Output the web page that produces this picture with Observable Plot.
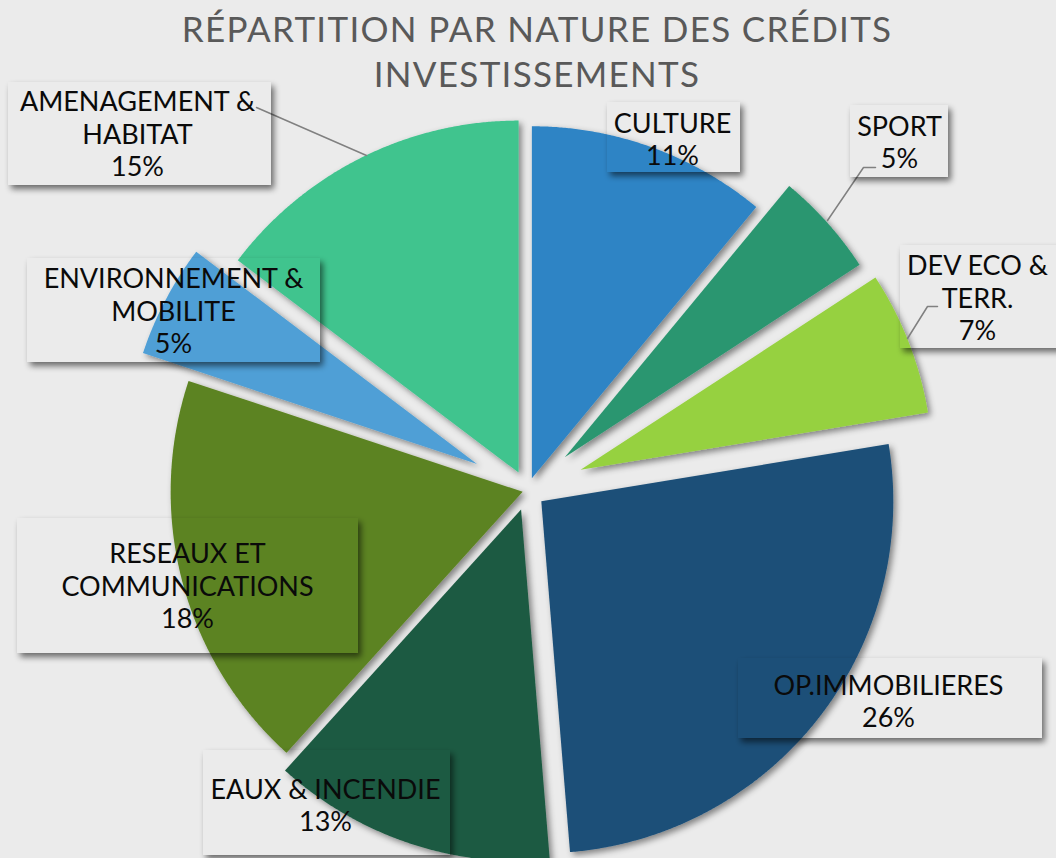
<!DOCTYPE html>
<html><head><meta charset="utf-8">
<script src="https://cdn.jsdelivr.net/npm/d3@7"></script>
<script src="https://cdn.jsdelivr.net/npm/@observablehq/plot@0.6"></script>
<style>
html,body{margin:0;padding:0;background:#ebebeb;}
#wrap{position:relative;width:1056px;height:858px;overflow:hidden;}
#title{position:absolute;left:0;top:6px;width:1074px;text-align:center;font-family:Lato,"Open Sans",sans-serif;font-size:35px;letter-spacing:1.3px;line-height:45px;color:#595959;}
</style></head>
<body>
<div id="wrap"><div id="chart"></div><div id="title">RÉPARTITION PAR NATURE DES CRÉDITS<br>INVESTISSEMENTS</div></div>
<script>
// ---- data ----
const categories = ["CULTURE","SPORT","DEV ECO & TERR.","OP.IMMOBILIERES","EAUX & INCENDIE","RESEAUX ET COMMUNICATIONS","ENVIRONNEMENT & MOBILITE","AMENAGEMENT & HABITAT"];
const shares = [11.0, 4.8, 6.6, 26.3, 13.0, 18.4, 5.2, 14.7];
const labelLines = [["CULTURE"],["SPORT"],["DEV ECO &","TERR."],["OP.IMMOBILIERES"],["EAUX & INCENDIE"],["RESEAUX ET","COMMUNICATIONS"],["ENVIRONNEMENT &","MOBILITE"],["AMENAGEMENT &","HABITAT"]];
const colors = ["#2e84c5","#2c9670","#96d13f","#1c4f78","#1e5a42","#5c8321","#4f9fd6","#3fc48e"];

// ---- layout (pixels) ----
const pie = {cx: 527, cy: 490, r: 352, explode: [13, 50, 57, 17.5, 20, 5, 57, 20]};
const labelBoxes = [[607,102,740,172],[850,105,948,177],[900,245,1062,348],[738,658,1042,738],[203,750,450,855],[17,518,358,653],[27,258,320,362],[8,82,271,185]];
const labelAnchors = [[672,138],[899,141],[977,297],[888,700],[325,804],[187,585],[173,310],[137,133]];
const leaders = [{i:7, pts:[[256,107],[366,155]]},{i:1, pts:[[875,167],[863,167],[827,220]]},{i:2, pts:[[937,306],[927,306],[907,338]]}];
const W = 1056, H = 858, FS = 27;

// ---- build geometry from data ----
const total = d3.sum(shares);
let acc = 0;
const slicePts = [];
categories.forEach((name, i) => {
  const a0 = acc / total * 2 * Math.PI; acc += shares[i];
  const a1 = acc / total * 2 * Math.PI;
  const mid = (a0 + a1) / 2, off = pie.explode[i];
  const ax = pie.cx + off * Math.sin(mid), ay = pie.cy - off * Math.cos(mid);
  slicePts.push({name, x: ax, y: ay});
  const n = Math.max(2, Math.ceil((a1 - a0) / 0.005));
  for (let k = 0; k <= n; k++) {
    const t = a0 + (a1 - a0) * k / n;
    slicePts.push({name, x: ax + pie.r * Math.sin(t), y: ay - pie.r * Math.cos(t)});
  }
  slicePts.push({name, x: ax, y: ay});
});
const labels = categories.map((name, i) => ({
  name, x: labelAnchors[i][0], y: labelAnchors[i][1],
  text: labelLines[i].join("\n") + "\n" + Math.round(shares[i]) + "%"
}));
const boxes = categories.map((name, i) => ({name, x1: labelBoxes[i][0], y1: labelBoxes[i][1], x2: labelBoxes[i][2], y2: labelBoxes[i][3]}));
const leaderPts = leaders.flatMap(l => l.pts.map(p => ({name: categories[l.i], x: p[0], y: p[1]})));

const chart = Plot.plot({
  width: W, height: H, margin: 0,
  x: {domain: [0, W], range: [0, W], axis: null},
  y: {domain: [0, H], range: [0, H], axis: null},
  color: {domain: categories, range: colors},
  style: {background: "transparent", overflow: "visible"},
  marks: [
    Plot.line(slicePts, {x: "x", y: "y", z: "name", fill: "name", stroke: "none"}),
    Plot.line(leaderPts, {x: "x", y: "y", z: "name", stroke: "#808080", strokeWidth: 1.5}),
    Plot.rect(boxes, {x1: "x1", y1: "y1", x2: "x2", y2: "y2", fill: "black"}),
    Plot.text(labels, {x: "x", y: "y", text: "text", fill: "#0a0a0a", fontSize: FS, fontFamily: "Lato, 'Open Sans', sans-serif", lineHeight: 32.5 / FS, lineAnchor: "middle", textAnchor: "middle"})
  ]
});
// shadow effects
const svg = d3.select(chart);
const defs = svg.insert("defs", ":first-child");
const f = defs.append("filter").attr("id", "boxShadow").attr("x", "-20%").attr("y", "-30%").attr("width", "140%").attr("height", "160%");
f.append("feGaussianBlur").attr("in", "SourceAlpha").attr("stdDeviation", 3).attr("result", "b");
f.append("feOffset").attr("in", "b").attr("dx", 3).attr("dy", 4).attr("result", "o");
f.append("feComposite").attr("in", "o").attr("in2", "SourceAlpha").attr("operator", "out").attr("result", "s");
f.append("feComponentTransfer").attr("in", "s").append("feFuncA").attr("type", "linear").attr("slope", 0.55);
const f2 = defs.append("filter").attr("id", "sliceShadow").attr("x", "-20%").attr("y", "-20%").attr("width", "140%").attr("height", "140%");
f2.append("feDropShadow").attr("dx", 3).attr("dy", 3).attr("stdDeviation", 3).attr("flood-color", "#000").attr("flood-opacity", 0.45);
const lineGroups = chart.querySelectorAll('g[aria-label="line"]');
if (lineGroups[0]) d3.select(lineGroups[0]).selectAll("path").attr("filter", "url(#sliceShadow)");
svg.selectAll('g[aria-label="rect"] rect').attr("filter", "url(#boxShadow)");
document.getElementById("chart").appendChild(chart);
</script>
</body></html>
